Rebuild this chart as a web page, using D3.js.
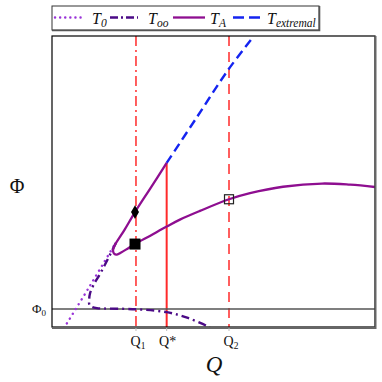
<!DOCTYPE html>
<html><head><meta charset="utf-8">
<script src="https://cdn.jsdelivr.net/npm/d3@7"></script>
<style>body{margin:0;background:#fff}svg{display:block}text{font-family:"Liberation Serif","Times New Roman",serif}</style>
</head><body><svg id="c" width="382" height="382"></svg>
<script>
// ---- data (Q, Phi) in arbitrary units ----
const T_A = [[3.55,5.64],[3.06,4.79],[2.57,3.95],[2.24,3.33],[1.93,2.78],[1.89,2.62],[1.93,2.51],[2.01,2.49],[2.14,2.56],[2.35,2.70],[2.57,2.85],[3.03,3.13],[3.55,3.45],[3.96,3.69],[4.58,3.99],[5.48,4.39],[6.13,4.60],[7.15,4.82],[8.36,4.93],[9.23,4.89],[10.0,4.81]];
const T_ext = [[3.55,5.64],[4.45,7.15],[5.45,8.83],[6.25,10.0]];
const T_0 = [[0.28,-0.2],[1.15,1.37],[1.95,2.85]];
const T_oo = [[1.98,2.89],[1.52,1.89],[1.27,1.41],[1.18,1.17],[1.15,0.93],[1.16,0.76],[1.24,0.69],[1.39,0.65],[2.60,0.61],[3.55,0.51],[4.21,0.31],[4.80,0.03],[4.9,-0.05]];
const Q1 = 2.60, Qstar = 3.55, Q2 = 5.48, Phi0 = 0.62;
const QstarTop = 5.64;
const diamondPt = [2.57,3.95], filledSq = [2.57,2.85], openSq = [5.48,4.39];
const xTicks = [{v:Q1,m:"Q",s:"1"},{v:Qstar,m:"Q*",s:""},{v:Q2,m:"Q",s:"2"}];
const legendItems = [{s:"0",k:"t0"},{s:"oo",k:"too"},{s:"A",k:"ta"},{s:"extremal",k:"text"}];

const styles = {
  t0:{color:"#9a34d8",w:2.4,dash:"0.1,5.5",cap:"round"},
  too:{color:"#4b0a86",w:2.4,dash:"8,4,2,4",cap:"butt"},
  ta:{color:"#8e0e90",w:2.3,dash:null,cap:"butt"},
  text:{color:"#1424f0",w:2.4,dash:"9,5",cap:"butt"}
};

const svg = d3.select("#c");
const L=52,R=375,T=36,B=327;
const x = d3.scaleLinear().domain([0,10]).range([L,R]);
const y = d3.scaleLinear().domain([0,10]).range([B,T]);

svg.append("defs").append("clipPath").attr("id","clip").append("rect")
  .attr("x",L).attr("y",T).attr("width",R-L).attr("height",B-T);
const g = svg.append("g").attr("clip-path","url(#clip)");

// reference lines
g.append("line").attr("x1",x(Q1)).attr("x2",x(Q1)).attr("y1",T).attr("y2",B)
  .attr("stroke","#ff2a2a").attr("stroke-width",1.5).attr("stroke-dasharray","10,4,2,4");
g.append("line").attr("x1",x(Q2)).attr("x2",x(Q2)).attr("y1",T).attr("y2",B)
  .attr("stroke","#ff2a2a").attr("stroke-width",1.5).attr("stroke-dasharray","10,6");
g.append("line").attr("x1",x(Qstar)).attr("x2",x(Qstar)).attr("y1",y(QstarTop)).attr("y2",B)
  .attr("stroke","#ff2a2a").attr("stroke-width",2);
g.append("line").attr("x1",L).attr("x2",R).attr("y1",y(Phi0)).attr("y2",y(Phi0))
  .attr("stroke","#555").attr("stroke-width",1.5);

const line = d3.line().x(d=>x(d[0])).y(d=>y(d[1])).curve(d3.curveCatmullRom.alpha(0.5));
function draw(data,k){
  const s=styles[k];
  const p=g.append("path").attr("d",line(data)).attr("fill","none")
    .attr("stroke",s.color).attr("stroke-width",s.w).attr("stroke-linecap",s.cap);
  if(s.dash)p.attr("stroke-dasharray",s.dash);
}
draw(T_0,"t0");
draw(T_oo,"too");
draw(T_ext,"text");
draw(T_A,"ta");

// markers
g.append("path").attr("d",d3.symbol().type(d3.symbolDiamond).size(55)())
  .attr("transform",`translate(${x(diamondPt[0])},${y(diamondPt[1])})`).attr("fill","#000");
g.append("rect").attr("x",x(filledSq[0])-5.5).attr("y",y(filledSq[1])-5.5).attr("width",11).attr("height",11).attr("fill","#000");
g.append("rect").attr("x",x(openSq[0])-4.5).attr("y",y(openSq[1])-4.5).attr("width",9).attr("height",9)
  .attr("fill","none").attr("stroke","#222").attr("stroke-width",1.2);

// frame
svg.append("rect").attr("x",L).attr("y",T).attr("width",R-L).attr("height",B-T)
  .attr("fill","none").attr("stroke","#000").attr("stroke-width",1.2);
svg.append("path").attr("d",`M${R+0.5},${T}V${B+1}H${L}`).attr("fill","none").attr("stroke","#666").attr("stroke-width",2);

// ticks
xTicks.forEach(t=>{
  svg.append("line").attr("x1",x(t.v)).attr("x2",x(t.v)).attr("y1",B+1).attr("y2",B+4).attr("stroke","#bbb");
  const tx=svg.append("text").attr("x",x(t.v)+(t.s?2:1)).attr("y",346).attr("text-anchor","middle")
    .attr("font-size",14).attr("fill","#111");
  tx.append("tspan").text(t.m);
  if(t.s) tx.append("tspan").attr("font-size",9.5).attr("dy",3).text(t.s);
});
const p0=svg.append("text").attr("x",46).attr("y",y(Phi0)+4).attr("text-anchor","end").attr("font-size",13).attr("fill","#111");
p0.append("tspan").text("Φ");
p0.append("tspan").attr("font-size",9).attr("dy",3).text("0");

// axis titles
svg.append("text").attr("x",214).attr("y",372).attr("text-anchor","middle").attr("font-size",23)
  .attr("font-style","italic").attr("fill","#111").text("Q");
svg.append("text").attr("x",17).attr("y",193).attr("text-anchor","middle").attr("font-size",20)
  .attr("fill","#111").text("Φ");

// legend
const lg=svg.append("g");
lg.append("rect").attr("x",52).attr("y",6).attr("width",267).attr("height",24).attr("fill","#fff").attr("stroke","#333").attr("stroke-width",1);
lg.append("path").attr("d","M319.5,6V30.5H52").attr("fill","none").attr("stroke","#555").attr("stroke-width",1.6);
const sampleX=[[55,82],[110,138],[173,205],[233,263]];
const textX=[92,148,210,267];
legendItems.forEach((it,i)=>{
  const s=styles[it.k];
  const ln=lg.append("line").attr("x1",sampleX[i][0]).attr("x2",sampleX[i][1]).attr("y1",17.5).attr("y2",17.5)
    .attr("stroke",s.color).attr("stroke-width",s.w).attr("stroke-linecap",s.cap);
  if(s.dash) ln.attr("stroke-dasharray",it.k==="t0"?"0.1,5":(it.k==="too"?"8,3,2,3":"11,5"));
  const tx=lg.append("text").attr("x",textX[i]).attr("y",24).attr("font-size",16).attr("font-style","italic").attr("fill","#111");
  tx.append("tspan").text("T");
  tx.append("tspan").attr("font-size",11.5).attr("dy",3).text(it.s);
});
</script></body></html>
